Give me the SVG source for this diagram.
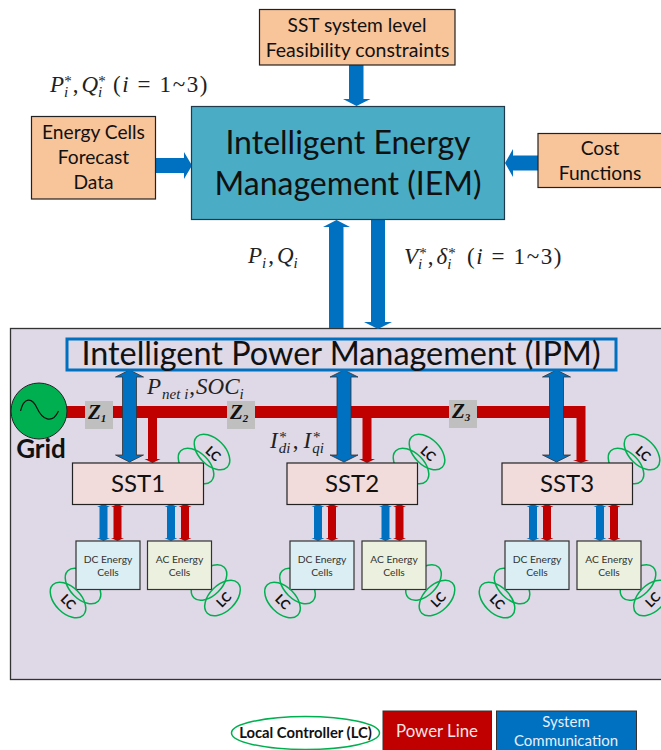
<svg xmlns="http://www.w3.org/2000/svg" xmlns:xlink="http://www.w3.org/1999/xlink" width="661" height="750" viewBox="0 0 661 750">
<style>
text{font-family:"Lato","Liberation Sans",sans-serif;fill:#111;text-anchor:middle}
.m{font-family:"Liberation Serif","DejaVu Serif",serif;font-size:23px;text-anchor:start;fill:#222}
.i{font-style:italic}
.s{font-size:15px}
.sp{letter-spacing:1.600px}
.o{fill:#f8c49a;stroke:#222;stroke-width:1.2}
.t{font-size:19.200px}
.ba{fill:#0070c0;stroke:#333;stroke-width:.8}
.bs{fill:#0070c0}
.r{fill:#c00000}
.sst{fill:#f2dcdb;stroke:#222;stroke-width:1.2}
.sst-t{font-size:24px}
.dc{fill:#daeef3;stroke:#333;stroke-width:1.2}
.ac{fill:#ebf1de;stroke:#333;stroke-width:1.2}
.c{font-size:10.300px;fill:#333}
.lc{fill:none;stroke:#00b050;stroke-width:1.5}
.lct{font-size:13px;font-weight:700;fill:#111}
.z{fill:#bfbfbf}
.zt{font-family:"Liberation Serif",serif;font-style:italic;font-weight:700;font-size:21px;text-anchor:start}
</style>
<defs>
<path id="sm" d="M-4 3V34H-6.500L0 37L6.500 34H4V3H6.500L0 0L-6.500 3Z"/>
<path id="big" d="M-7 7V85H-14L0 92L14 85H7V7H14L0 0L-14 7Z"/>
<g id="lc1"><ellipse class="lc" cx="0" cy="0" rx="21.500" ry="13" transform="rotate(45)"/></g>
<g id="lc2"><ellipse class="lc" cx="0" cy="0" rx="21.500" ry="13" transform="rotate(-45)"/></g>
</defs>

<g id="panel"><rect x="10.500" y="328.500" width="660" height="351" fill="#dfd8e6" stroke="#333" stroke-width="1.300"/></g>

<g id="connectors">
<path class="bs" d="M349 65H363.500V99H370.500L356.500 106L343 99H349Z"/>
<path class="bs" d="M155.500 158H184V152L192 165.500L184 179V173H155.500Z"/>
<path class="bs" d="M538 155.500H513V149L505 163L513 177V170.500H538Z"/>
<path class="bs" d="M329 328V227H323L336.500 220L350 227H343.500V328Z"/>
<path class="bs" d="M371 220H385V322H392L378 329L364 322H371Z"/>
<path class="r" d="M66 406H585.500V460H589L581 463L573 460H576.500V418H66Z"/>
<path class="r" d="M148 418H157V459H160.500L152.500 463L144.500 459H148Z"/>
<path class="r" d="M362.500 418H371.500V459H375L367 463L359 459H362.500Z"/>
<use href="#big" class="ba" x="129.500" y="370"/>
<use href="#big" class="ba" x="344" y="370"/>
<use href="#big" class="ba" x="556.500" y="370"/>
<g class="bs">
<use href="#sm" x="103.500" y="504"/><use href="#sm" x="171" y="504"/>
<use href="#sm" x="318" y="504"/><use href="#sm" x="385.500" y="504"/>
<use href="#sm" x="533" y="504"/><use href="#sm" x="600" y="504"/>
</g>
<g class="r">
<use href="#sm" x="117.500" y="504"/><use href="#sm" x="185" y="504"/>
<use href="#sm" x="332" y="504"/><use href="#sm" x="399.500" y="504"/>
<use href="#sm" x="547" y="504"/><use href="#sm" x="614" y="504"/>
</g>
</g>

<g id="sst-limits">
<rect class="o" x="259.500" y="9.500" width="195.500" height="55.500"/>
<text class="t" x="357" y="31.500">SST system level</text>
<text x="357.500" y="56.500" font-size="19.500">Feasibility constraints</text>
</g>
<g id="iem">
<rect x="191.500" y="106.500" width="313" height="113" fill="#4bacc6" stroke="#1f3a4a" stroke-width="1.200"/>
<text x="348" y="154" font-size="32">Intelligent Energy</text>
<text x="348" y="195" font-size="32">Management (IEM)</text>
</g>
<g id="forecast">
<rect class="o" x="31.500" y="116.500" width="124" height="82.500"/>
<text class="t" x="93.500" y="139">Energy Cells</text>
<text class="t" x="93.500" y="164">Forecast</text>
<text class="t" x="93.500" y="189">Data</text>
</g>
<g id="cost">
<rect class="o" x="538" y="133.500" width="130" height="54"/>
<text class="t" x="600" y="154.500">Cost</text>
<text class="t" x="600" y="179.500">Functions</text>
</g>

<g id="math-labels">
<text class="m" x="50" y="92"><tspan class="i">P</tspan><tspan class="i s" dy="5">i</tspan><tspan class="s" dx="-4" dy="-11">*</tspan><tspan dy="6" dx="1">,</tspan><tspan class="i" dx="3">Q</tspan><tspan class="i s" dy="5">i</tspan><tspan class="s" dx="-4" dy="-11">*</tspan><tspan class="sp" x="113" dy="6">(<tspan class="i">i</tspan> = 1~3)</tspan></text>
<text class="m" x="248" y="263"><tspan class="i">P</tspan><tspan class="i s" dy="5">i</tspan><tspan dy="-5" dx="2">,</tspan><tspan class="i" dx="3">Q</tspan><tspan class="i s" dy="5">i</tspan></text>
<text class="m" x="404" y="264"><tspan class="i">V</tspan><tspan class="i s" dy="5">i</tspan><tspan class="s" dx="-3" dy="-11">*</tspan><tspan dy="6" dx="1">,</tspan><tspan class="i" dx="3">δ</tspan><tspan class="i s" dy="5">i</tspan><tspan class="s" dx="-3" dy="-11">*</tspan><tspan class="sp" x="467" dy="6">(<tspan class="i">i</tspan> = 1~3)</tspan></text>
<text class="m" x="147" y="394"><tspan class="i">P</tspan><tspan class="i s" dy="5" dx="1">net i</tspan><tspan dy="-5" dx="1">,</tspan><tspan class="i" dx="1">SOC</tspan><tspan class="i s" dy="5">i</tspan></text>
<text class="m" x="270" y="448"><tspan class="i">I</tspan><tspan class="i s" dy="5" dx="1">di</tspan><tspan class="s" dx="-11" dy="-11">*</tspan><tspan dx="6" dy="6">,</tspan><tspan class="i" dx="5">I</tspan><tspan class="i s" dy="5" dx="1">qi</tspan><tspan class="s" dx="-11" dy="-11">*</tspan></text>
</g>

<g id="ipm">
<rect x="67" y="339" width="549" height="31" fill="none" stroke="#0070c0" stroke-width="3"/>
<text x="341" y="365" font-size="32.400">Intelligent Power Management (IPM)</text>
</g>

<g id="grid">
<circle cx="39" cy="411" r="28" fill="#00b050" stroke="#222" stroke-width="1"/>
<path d="M20.500 411C24 397 32 397 37 408S52 425 58.500 411" fill="none" stroke="#111" stroke-width="1.200"/>
<text x="41" y="458" font-size="26" font-weight="700">Grid</text>
</g>
<g id="z1"><rect class="z" x="85" y="401" width="28" height="28"/><text class="zt" x="88" y="419">Z<tspan font-size="11" dy="3">1</tspan></text></g>
<g id="z2"><rect class="z" x="227" y="401" width="28" height="28"/><text class="zt" x="230" y="419">Z<tspan font-size="11" dy="3">2</tspan></text></g>
<g id="z3"><rect class="z" x="449" y="400" width="28" height="28"/><text class="zt" x="452" y="418">Z<tspan font-size="11" dy="3">3</tspan></text></g>

<g id="lc-behind">
<use href="#lc1" x="196" y="466"/><use href="#lc1" x="411" y="466"/><use href="#lc1" x="626" y="466"/>
<use href="#lc1" x="83" y="586"/><use href="#lc1" x="297.500" y="586"/><use href="#lc1" x="512" y="586"/>
<use href="#lc2" x="209" y="582.500"/><use href="#lc2" x="423.500" y="582.500"/><use href="#lc2" x="638" y="582.500"/>
</g>

<g id="sst1"><rect class="sst" x="72.500" y="463" width="131" height="41.500"/><text class="sst-t" x="138" y="492">SST1</text></g>
<g id="sst2"><rect class="sst" x="287" y="463" width="130.500" height="41.500"/><text class="sst-t" x="352" y="492">SST2</text></g>
<g id="sst3"><rect class="sst" x="502" y="463" width="130.500" height="41.500"/><text class="sst-t" x="567" y="492">SST3</text></g>

<g id="dc1"><rect class="dc" x="76" y="541" width="64" height="48.500"/><text class="c" x="108" y="563">DC Energy</text><text class="c" x="108" y="576">Cells</text></g>
<g id="ac1"><rect class="ac" x="147.500" y="541" width="64" height="48.500"/><text class="c" x="179.500" y="563">AC Energy</text><text class="c" x="179.500" y="576">Cells</text></g>
<g id="dc2"><rect class="dc" x="290" y="541" width="64" height="48.500"/><text class="c" x="322" y="563">DC Energy</text><text class="c" x="322" y="576">Cells</text></g>
<g id="ac2"><rect class="ac" x="362" y="541" width="64" height="48.500"/><text class="c" x="394" y="563">AC Energy</text><text class="c" x="394" y="576">Cells</text></g>
<g id="dc3"><rect class="dc" x="505" y="541" width="64" height="48.500"/><text class="c" x="537" y="563">DC Energy</text><text class="c" x="537" y="576">Cells</text></g>
<g id="ac3"><rect class="ac" x="577" y="541" width="64" height="48.500"/><text class="c" x="609" y="563">AC Energy</text><text class="c" x="609" y="576">Cells</text></g>

<g id="lc-front">
<g id="lc-sst1"><use href="#lc1" x="212" y="452"/><text class="lct" transform="translate(210 457) rotate(42)">LC</text></g>
<g id="lc-sst2"><use href="#lc1" x="427" y="452"/><text class="lct" transform="translate(425 457) rotate(42)">LC</text></g>
<g id="lc-sst3"><use href="#lc1" x="642" y="452"/><text class="lct" transform="translate(640 457) rotate(42)">LC</text></g>
<g id="lc-dc1"><use href="#lc1" x="68" y="600"/><text class="lct" transform="translate(65 605) rotate(45)">LC</text></g>
<g id="lc-dc2"><use href="#lc1" x="282.500" y="600"/><text class="lct" transform="translate(279.500 605) rotate(45)">LC</text></g>
<g id="lc-dc3"><use href="#lc1" x="497" y="600"/><text class="lct" transform="translate(494 605) rotate(45)">LC</text></g>
<g id="lc-ac1"><use href="#lc2" x="222.500" y="598"/><text class="lct" transform="translate(227 603) rotate(-45)">LC</text></g>
<g id="lc-ac2"><use href="#lc2" x="437" y="598"/><text class="lct" transform="translate(441.500 603) rotate(-45)">LC</text></g>
<g id="lc-ac3"><use href="#lc2" x="651.500" y="598"/><text class="lct" transform="translate(656 603) rotate(-45)">LC</text></g>
</g>

<g id="legend-lc"><ellipse class="lc" cx="305.500" cy="733" rx="74" ry="16.500"/><text x="305.500" y="738" font-size="14.800" font-weight="700">Local Controller (LC)</text></g>
<g id="legend-power"><rect x="383" y="711" width="108.500" height="45" fill="#c00000" stroke="#333"/><text x="437" y="737" font-size="16.800" style="fill:#f5e6e6">Power Line</text></g>
<g id="legend-comm"><rect x="496.500" y="711" width="140" height="45" fill="#0070c0" stroke="#333"/><text x="566" y="727" font-size="15" style="fill:#e6eef8">System</text><text x="566" y="746" font-size="15" style="fill:#e6eef8">Communication</text></g>
</svg>
